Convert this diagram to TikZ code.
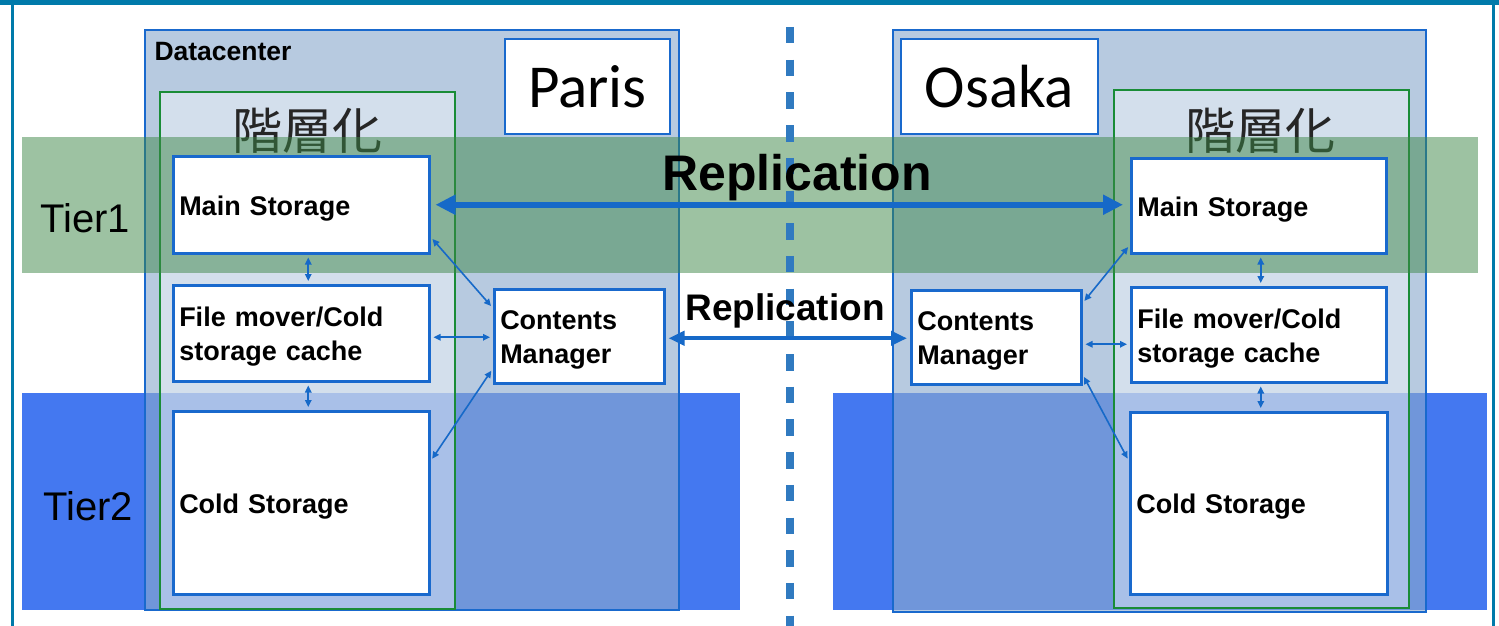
\documentclass[tikz,border=0pt]{standalone}
\usepackage{fontspec}
\setmainfont{Liberation Sans}
\newfontfamily\calib{Carlito}
\newfontfamily\cjk{Noto Sans CJK JP}
\usetikzlibrary{arrows.meta}
\definecolor{frameblue}{RGB}{0,122,170}
\definecolor{boxblue}{RGB}{25,105,205}
\definecolor{dcfill}{RGB}{140,170,205}
\definecolor{grnline}{RGB}{25,140,55}
\definecolor{tieronegreen}{RGB}{61,135,71}
\definecolor{tiertwoblue}{RGB}{68,120,240}
\definecolor{arrowblue}{RGB}{22,105,200}
\definecolor{dashblue}{RGB}{48,122,192}
\begin{document}
\begin{tikzpicture}[x=1pt,y=-1pt,
  box/.style={draw=boxblue, line width=2.5pt, fill=white, anchor=north west, align=left,
    inner xsep=6pt, inner ysep=0pt, font=\fontsize{27}{34}\selectfont\bfseries,
    execute at begin node={\rule{0pt}{1em}}},
  labelbox/.style={draw=boxblue, line width=2pt, fill=white, anchor=north west,
    inner sep=0pt, font=\calib\fontsize{61}{70}\selectfont},
  dcbox/.style={draw=boxblue, line width=2.5pt, fill=dcfill, fill opacity=0.62},
  tierbox/.style={draw=grnline, line width=2pt, fill=white, fill opacity=0.4},
  hier/.style={font=\cjk\fontsize{50}{56}\selectfont, text=black!85},
  tiertext/.style={anchor=base west, font=\fontsize{40}{44}\selectfont},
  sarrow/.style={draw=arrowblue, line width=1.6pt,
    {Triangle[length=7pt,width=6.5pt]}-{Triangle[length=7pt,width=6.5pt]},
    shorten <=3pt, shorten >=3pt},
  bigarrow/.style={draw=arrowblue, line width=6pt,
    {Triangle[length=20pt,width=19pt]}-{Triangle[length=20pt,width=19pt]},
    shorten <=5pt, shorten >=7pt},
  midarrow/.style={draw=arrowblue, line width=4pt,
    {Triangle[length=16pt,width=14pt]}-{Triangle[length=16pt,width=14pt]},
    shorten <=3pt, shorten >=3pt},
  dashline/.style={draw=dashblue, line width=7.5pt, dash pattern=on 16.5pt off 16.2pt}
]
\useasboundingbox (0,0) rectangle (1499,626);
\fill[white] (0,0) rectangle (1499,626);
% frame
\fill[frameblue] (0,0) rectangle (1499,5);
\fill[frameblue] (10.5,0) rectangle (13.5,626);
\fill[frameblue] (1492,0) rectangle (1495,626);
% tier 2 bands
\fill[tiertwoblue] (22,393) rectangle (740,610);
\fill[tiertwoblue] (833,393) rectangle (1487,610);
% datacenters
\draw[dcbox] (145,30) rectangle (679,610);
\draw[dcbox] (893,30) rectangle (1426,612);
% tiering boxes
\draw[tierbox] (160,92) rectangle (455,609);
\draw[tierbox] (1114,90) rectangle (1409,608);
\node[anchor=base west, font=\fontsize{26.5}{30}\selectfont\bfseries] (dctext) at (151,61) {Datacenter};
\node[hier] (hierp) at (307,131) {階層化};
\node[hier] (hiero) at (1260,131) {階層化};
% tier 1 band
\fill[tieronegreen, fill opacity=0.5] (22,137) rectangle (1478,273);
\node[tiertext] (tier1) at (37,232) {Tier1};
\node[tiertext] (tier2) at (40,520) {Tier2};
% dashed divider
\coordinate (dtop) at (790,27);
\coordinate (dbot) at (790,626);
\draw[dashline] (dtop) -- (dbot);
% location labels
\node[labelbox, minimum width=165pt, minimum height=95pt] (paris) at (504,38) {Paris};
\node[labelbox, minimum width=197pt, minimum height=95pt] (osaka) at (900,38) {Osaka};
% Paris boxes
\node[box, text width=244pt, minimum height=97pt] (pms) at (172,155) {Main Storage};
\node[box, text width=244pt, minimum height=96pt] (pfm) at (172,284) {File mover/Cold\\storage cache};
\node[box, text width=244pt, minimum height=183pt] (pcs) at (172,410) {Cold Storage};
\node[box, text width=158pt, minimum height=94pt] (pcm) at (493,288) {Contents\\Manager};
% Osaka boxes
\node[box, text width=243pt, minimum height=95pt] (oms) at (1130,157) {Main Storage};
\node[box, text width=243pt, minimum height=95pt] (ofm) at (1130,286) {File mover/Cold\\storage cache};
\node[box, text width=245pt, minimum height=182pt] (ocs) at (1129,411) {Cold Storage};
\node[box, text width=158pt, minimum height=94pt] (ocm) at (910,289) {Contents\\Manager};
% Paris arrows
\draw[sarrow] ([xshift=7pt]pms.south) -- ([xshift=7pt]pms.south |- pfm.north);
\draw[sarrow] ([xshift=7pt]pfm.south) -- ([xshift=7pt]pfm.south |- pcs.north);
\draw[sarrow] ([yshift=-4pt]pfm.east) -- ([yshift=-4pt]pfm.east -| pcm.west);
\draw[sarrow] ([yshift=-32pt]pms.east) -- ([yshift=28pt]pcm.west);
\draw[sarrow] ([yshift=41.5pt]pcs.east) -- ([yshift=-32pt]pcm.west);
% Osaka arrows
\draw[sarrow] ([xshift=2pt]oms.south) -- ([xshift=2pt]oms.south |- ofm.north);
\draw[sarrow] ([xshift=2pt]ofm.south) -- ([xshift=2pt]ofm.south |- ocs.north);
\draw[sarrow] ([yshift=-7pt]ocm.east) -- ([yshift=-7pt]ocm.east -| ofm.west);
\draw[sarrow] ([yshift=34pt]ocm.east) -- ([yshift=-39pt]oms.west);
\draw[sarrow] ([yshift=-37pt]ocm.east) -- ([yshift=42pt]ocs.west);
% replication
\draw[bigarrow] (pms.east) -- (pms.east -| oms.west);
\node[anchor=base, font=\fontsize{50}{56}\selectfont\bfseries] (rep1) at (797,190) {Replication};
\draw[midarrow] ([yshift=-2pt]pcm.east) -- ([yshift=-2pt]pcm.east -| ocm.west);
\node[anchor=base, font=\fontsize{37}{42}\selectfont\bfseries] (rep2) at (785,320) {Replication};
\end{tikzpicture}
\end{document}
